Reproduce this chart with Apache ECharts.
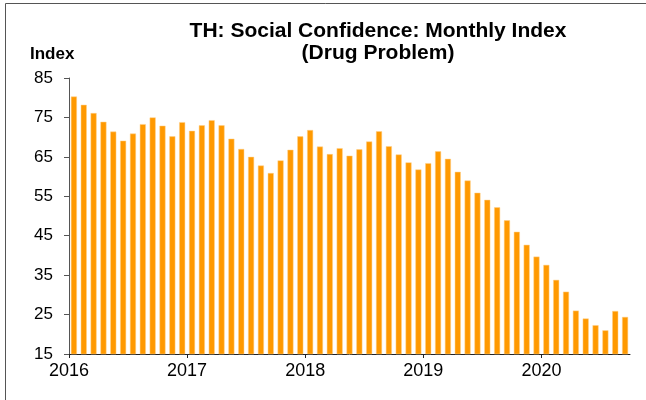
<!DOCTYPE html>
<html>
<head>
<meta charset="utf-8">
<script src="https://cdn.jsdelivr.net/npm/echarts@6/dist/echarts.min.js"></script>
<style>html,body{margin:0;padding:0;background:#fff}#c{width:646px;height:400px}</style>
</head>
<body>
<div id="c"></div>
<script>
const startYear = 2016;
const yearLabels = ['2016', '2017', '2018', '2019', '2020'];
const yTicks = [15, 25, 35, 45, 55, 65, 75, 85];
// Monthly index, Jan 2016 .. Sep 2020
const values = [
  80.3, 78.2, 76.1, 73.9, 71.4, 69.1, 70.9, 73.3, 75.0, 72.9, 70.2, 73.8,
  71.6, 73.0, 74.3, 73.0, 69.6, 67.0, 65.0, 62.8, 60.9, 64.1, 66.8, 70.2,
  71.8, 67.6, 65.7, 67.2, 65.3, 66.9, 68.9, 71.5, 67.7, 65.6, 63.6, 61.8,
  63.4, 66.4, 64.5, 61.2, 59.0, 55.9, 54.1, 52.2, 48.9, 46.0, 42.7, 39.7,
  37.6, 33.8, 30.8, 26.0, 24.0, 22.3, 21.0, 25.9, 24.4
];

const yearTickPos = yearLabels.map((y, i) => i * 12);
const barData = values.map((v, i) => [i + 0.5, v]);

const chart = echarts.init(document.getElementById('c'), null, {renderer: 'canvas'});
chart.setOption({
  animation: false,
  backgroundColor: '#ffffff',
  title: {
    text: 'TH: Social Confidence: Monthly Index\n(Drug Problem)',
    left: 373,
    top: 15,
    textAlign: 'center',
    textStyle: {fontFamily: 'Liberation Sans, Arial, sans-serif', fontSize: 21, fontWeight: 'bold', color: '#000', lineHeight: 22}
  },
  graphic: [
    {type: 'line', shape: {x1: 5.5, y1: 3.5, x2: 646, y2: 3.5}, style: {stroke: '#555', lineWidth: 1}},
    {type: 'line', shape: {x1: 5.5, y1: 3.5, x2: 5.5, y2: 400}, style: {stroke: '#555', lineWidth: 1}},
    {type: 'text', left: 30, top: 46, style: {text: 'Index', font: 'bold 17px Liberation Sans, Arial, sans-serif', fill: '#000'}}
  ],
  grid: {left: 69, right: 16, top: 78, bottom: 46, containLabel: false},
  xAxis: {
    type: 'value',
    min: 0,
    max: values.length,
    axisLine: {show: true, lineStyle: {color: '#222', width: 1}},
    axisTick: {show: true, length: 4, inside: false, customValues: yearTickPos, lineStyle: {color: '#222'}},
    axisLabel: {
      customValues: yearTickPos,
      formatter: v => yearLabels[Math.round(v / 12)],
      fontFamily: 'Liberation Sans, Arial, sans-serif', fontSize: 18, color: '#000', margin: 8
    },
    splitLine: {show: false}
  },
  yAxis: {
    type: 'value',
    min: 15,
    max: 85,
    axisLine: {show: true, lineStyle: {color: '#555', width: 1}},
    axisTick: {show: true, length: 5, customValues: yTicks, lineStyle: {color: '#555'}},
    axisLabel: {
      customValues: yTicks,
      fontFamily: 'Liberation Sans, Arial, sans-serif', fontSize: 17, color: '#000', margin: 16
    },
    splitLine: {show: false}
  },
  series: [{
    type: 'bar',
    data: barData,
    barWidth: 6,
    itemStyle: {color: '#FF9900', borderColor: '#FFD08A', borderWidth: 0.5}
  }]
});
</script>
</body>
</html>
